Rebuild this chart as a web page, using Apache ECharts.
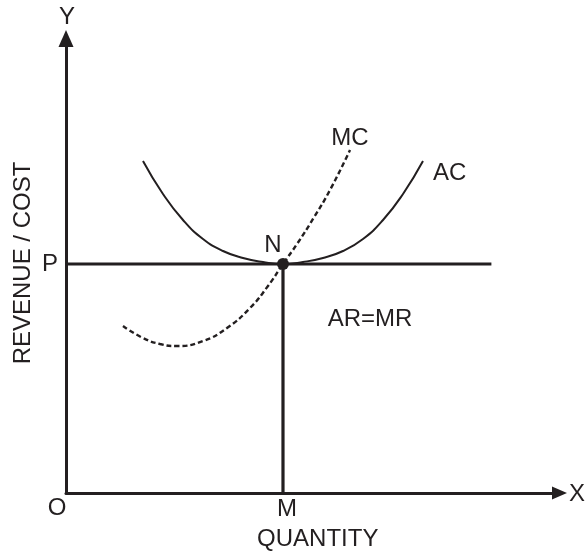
<!DOCTYPE html>
<html>
<head>
<meta charset="utf-8">
<script src="https://cdn.jsdelivr.net/npm/echarts@6/dist/echarts.min.js"></script>
<style>
  html, body { margin: 0; padding: 0; background: #fff; }
  #chart { width: 585px; height: 551px; }
</style>
</head>
<body>
<div id="chart"></div>
<script>
// Equilibrium of a firm under perfect competition: AC, MC and AR=MR
const priceP = 50.39;     // market price P (AR = MR)
const quantityM = 43.97;  // equilibrium output M
const arMrEndX = 86.2;    // right end of the AR=MR price line

// Average cost curve (U-shaped, minimum at N)
const acX = [15.60, 19.65, 23.71, 27.76, 31.81, 35.87, 39.92, 43.97, 48.02, 52.08, 56.13, 60.18, 64.24, 68.29, 72.34];
const acY = [73.05, 65.79, 60.07, 55.89, 53.25, 51.71, 50.83, 50.39, 50.83, 51.71, 53.25, 55.89, 60.07, 65.79, 73.05];

// Marginal cost curve (cuts AC at its minimum)
const mcX = [11.55, 15.60, 19.05, 22.49, 27.76, 32.62, 37.28, 40.93, 43.97, 46.81, 50.05, 53.50, 57.55];
const mcY = [36.74, 34.10, 32.78, 32.34, 33.44, 36.30, 40.70, 45.54, 50.39, 54.79, 60.29, 66.67, 75.47];

const ink = '#231f20';
const font = '"Liberation Sans", Arial, sans-serif';
const fs = 24;

const zip = (xs, ys) => xs.map((x, i) => [x, ys[i]]);

const chart = echarts.init(document.getElementById('chart'), null, { renderer: 'canvas' });

function centeredText(text, x, y, rotation) {
  return {
    type: 'text',
    x, y, rotation: rotation || 0,
    style: { text, x: 0, y: 0, align: 'center', verticalAlign: 'middle', fill: ink, font: fs + 'px ' + font }
  };
}

chart.setOption({
  backgroundColor: '#ffffff',
  animation: false,
  grid: { left: 66, top: 38.5, right: 25.5, bottom: 58, containLabel: false, outerBoundsMode: 'none' },
  xAxis: {
    type: 'value', min: 0, max: 100,
    splitLine: { show: false },
    axisTick: { show: false },
    axisLine: {
      show: true, onZero: false,
      lineStyle: { color: ink, width: 3 },
      symbol: ['none', 'triangle'], symbolSize: [13, 15]
    },
    axisLabel: {
      customValues: [quantityM], formatter: () => 'M',
      color: ink, fontFamily: font, fontSize: fs, margin: 4, padding: [0, 0, 0, 8]
    },
    name: 'QUANTITY', nameLocation: 'middle', nameGap: 34,
    nameTextStyle: { color: ink, fontFamily: font, fontSize: fs, padding: [0, 0, 0, 10] }
  },
  yAxis: {
    type: 'value', min: 0, max: 100,
    splitLine: { show: false },
    axisTick: { show: false },
    axisLine: {
      show: true, onZero: false,
      lineStyle: { color: ink, width: 3 },
      symbol: ['none', 'triangle'], symbolSize: [15, 17]
    },
    axisLabel: {
      customValues: [priceP], formatter: () => 'P',
      color: ink, fontFamily: font, fontSize: fs, margin: 8
    }
  },
  series: [
    {
      name: 'AC', type: 'line', smooth: 0.5, showSymbol: false,
      data: zip(acX, acY),
      lineStyle: { color: ink, width: 2 },
      endLabel: { show: true, formatter: 'AC', color: ink, fontFamily: font, fontSize: fs, offset: [2, 12] }
    },
    {
      name: 'MC', type: 'line', smooth: 0.5, showSymbol: false,
      data: zip(mcX, mcY),
      lineStyle: { color: ink, width: 2.4, type: [5, 3] },
      endLabel: { show: true, formatter: 'MC', color: ink, fontFamily: font, fontSize: fs, align: 'center', verticalAlign: 'middle', offset: [0, -12], distance: 0 }
    },
    {
      name: 'AR=MR', type: 'line', showSymbol: false,
      data: [[0, priceP], [arMrEndX, priceP]],
      lineStyle: { color: ink, width: 3 }
    },
    {
      name: 'OM', type: 'line', showSymbol: false,
      data: [[quantityM, 0], [quantityM, priceP]],
      lineStyle: { color: ink, width: 3.2 }
    },
    {
      name: 'N', type: 'scatter', symbolSize: 12,
      data: [[quantityM, priceP]],
      itemStyle: { color: ink, opacity: 1 },
      label: { show: true, formatter: 'N', position: 'top', offset: [-10, 4], color: ink, fontFamily: font, fontSize: fs, opacity: 1 },
      z: 5
    }
  ],
  graphic: [
    centeredText('Y', 67, 17),
    centeredText('X', 577, 494),
    centeredText('O', 57, 508),
    centeredText('AR=MR', 370, 319),
    centeredText('REVENUE / COST', 23, 263, Math.PI / 2)
  ]
});
</script>
</body>
</html>
